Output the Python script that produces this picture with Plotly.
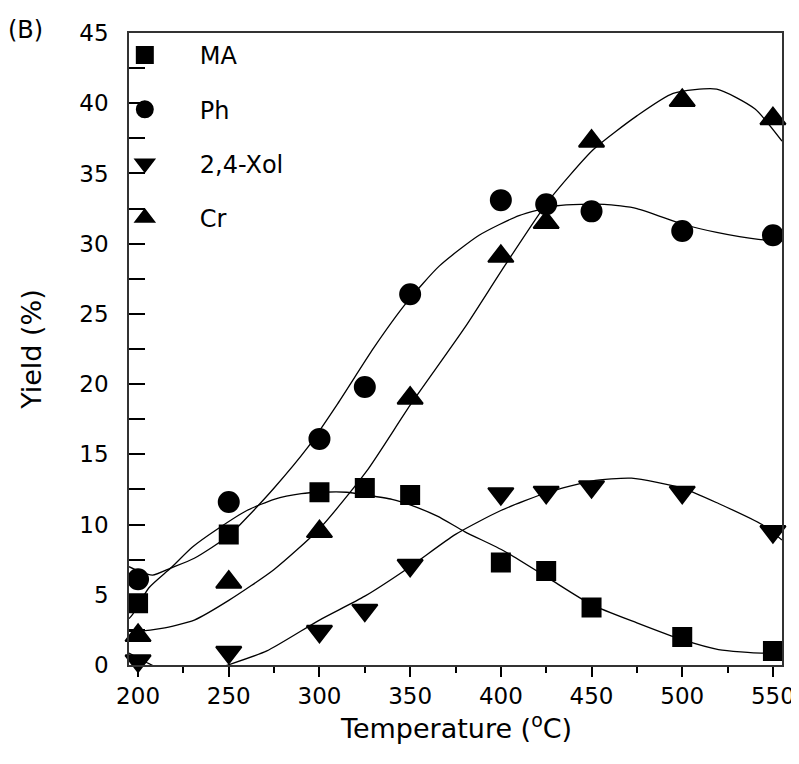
import plotly.graph_objects as go

# ---- measured data points ----
temps = [200, 250, 300, 325, 350, 400, 425, 450, 500, 550]
ma = [4.4, 9.3, 12.3, 12.6, 12.1, 7.3, 6.7, 4.1, 2.0, 1.0]
ph = [6.1, 11.6, 16.1, 19.8, 26.4, 33.1, 32.8, 32.3, 30.9, 30.6]
xol = [0.3, 0.9, 2.4, 3.9, 7.1, 12.2, 12.3, 12.7, 12.3, 9.5]
cr_temps = [200, 250, 300, 350, 400, 425, 450, 500, 550]
cr = [2.1, 5.9, 9.5, 19.0, 29.1, 31.5, 37.3, 40.2, 38.9]

# ---- fitted curves ----
ma_fit_t = [195, 197, 206, 218, 230, 244, 260, 275, 290, 301, 315, 326, 340, 350, 365, 380, 402, 426, 450, 475, 500, 520, 544, 555]
ma_fit_v = [3.3, 3.6, 5.5, 6.9, 8.4, 9.7, 11.0, 11.8, 12.2, 12.3, 12.3, 12.1, 11.8, 11.4, 10.6, 9.5, 8.1, 6.2, 4.3, 3.0, 1.8, 1.1, 0.85, 1.0]
ph_fit_t = [195, 200, 208, 218, 231, 250, 260, 275, 293, 310, 330, 348, 366, 388, 410, 431, 457, 475, 500, 519, 542, 555]
ph_fit_v = [7.0, 6.7, 6.4, 6.9, 7.6, 9.2, 10.5, 12.6, 15.4, 18.6, 22.6, 25.8, 28.4, 30.6, 32.0, 32.7, 32.8, 32.5, 31.4, 30.8, 30.3, 30.2]
xol_fit_t = [195, 200, 206, 225, 249.5, 271, 300, 325, 350, 375, 400, 426, 450, 472, 500, 520, 544, 555]
xol_fit_v = [0.85, 0.5, 0.1, -1.0, 0.0, 1.0, 3.2, 4.9, 7.0, 9.3, 11.0, 12.3, 13.1, 13.3, 12.6, 11.5, 10.0, 8.9]
cr_fit_t = [195, 200, 213, 231, 250, 275, 300, 326, 350, 380, 402, 426, 451, 475, 495, 519, 540, 555]
cr_fit_v = [2.4, 2.4, 2.6, 3.2, 4.6, 6.8, 9.7, 13.8, 18.5, 24.0, 28.4, 33.0, 36.7, 39.1, 40.7, 41.0, 39.6, 37.3]

x_ticks = [200, 250, 300, 350, 400, 450, 500, 550]
y_ticks = [0, 5, 10, 15, 20, 25, 30, 35, 40, 45]

names = ["MA", "Ph", "2,4-Xol", "Cr"]
symbols = ["square", "circle", "triangle-down", "triangle-up"]
sizes = [18, 20, 22, 22]

FONT = "DejaVu Sans, Arial, sans-serif"

fig = go.Figure()

fits = [(ma_fit_t, ma_fit_v), (ph_fit_t, ph_fit_v), (xol_fit_t, xol_fit_v), (cr_fit_t, cr_fit_v)]
for (ft, fv) in fits:
    fig.add_trace(go.Scatter(x=ft, y=fv, mode="lines",
                             line=dict(color="black", width=1.3, shape="spline", smoothing=0.6),
                             showlegend=False, hoverinfo="skip"))

series = [(temps, ma), (temps, ph), (temps, xol), (cr_temps, cr)]
for i, (tx, ty) in enumerate(series):
    fig.add_trace(go.Scatter(x=tx, y=ty, mode="markers", name=names[i], legendgroup=names[i],
                             marker=dict(symbol=symbols[i], size=sizes[i], color="black",
                                         line=dict(color="black", width=2)),
                             cliponaxis=False))

fig.update_layout(
    width=799, height=764,
    margin=dict(l=121, r=19, t=24, b=107),
    plot_bgcolor="white", paper_bgcolor="white",
    font=dict(family=FONT, size=23, color="black"),
    showlegend=True,
    legend=dict(x=-0.06, y=1.0, xanchor="left", yanchor="top", bgcolor="rgba(0,0,0,0)",
                font=dict(size=24), tracegroupgap=20, itemwidth=100),
    xaxis=dict(range=[195, 555], tickmode="array", tickvals=x_ticks,
               ticks="outside", ticklen=10, tickwidth=1.5, tickcolor="black",
               minor=dict(tickvals=[225, 275, 325, 375, 425, 475, 525], ticks="outside", ticklen=6,
                          tickwidth=1.5, tickcolor="black"),
               showline=True, linecolor="#333", linewidth=1.5, mirror=True, showgrid=False, zeroline=False,
               tickfont=dict(size=23), ticklabelstandoff=0),
    yaxis=dict(range=[0, 45], tickmode="array", tickvals=y_ticks,
               ticks="inside", ticklen=16, tickwidth=1.5, tickcolor="black",
               minor=dict(tickvals=[2.5, 7.5, 12.5, 17.5, 22.5, 27.5, 32.5, 37.5, 42.5], ticks="inside",
                          ticklen=16, tickwidth=1.5, tickcolor="black"),
               showline=True, linecolor="#333", linewidth=1.5, mirror=True, showgrid=False, zeroline=False,
               tickfont=dict(size=23), ticklabelstandoff=14,
               title=dict(text="Yield (%)", font=dict(size=27), standoff=30)),
    annotations=[
        dict(text="(B)", xref="paper", yref="paper", x=-0.158, y=1.005, xanchor="center",
             yanchor="middle", showarrow=False, font=dict(size=24)),
        dict(text="Temperature (<sup>o</sup>C)", xref="paper", yref="paper", x=0.5, y=-0.097,
             xanchor="center", yanchor="middle", showarrow=False, font=dict(size=27)),
    ],
)

fig.write_html("out.html")
